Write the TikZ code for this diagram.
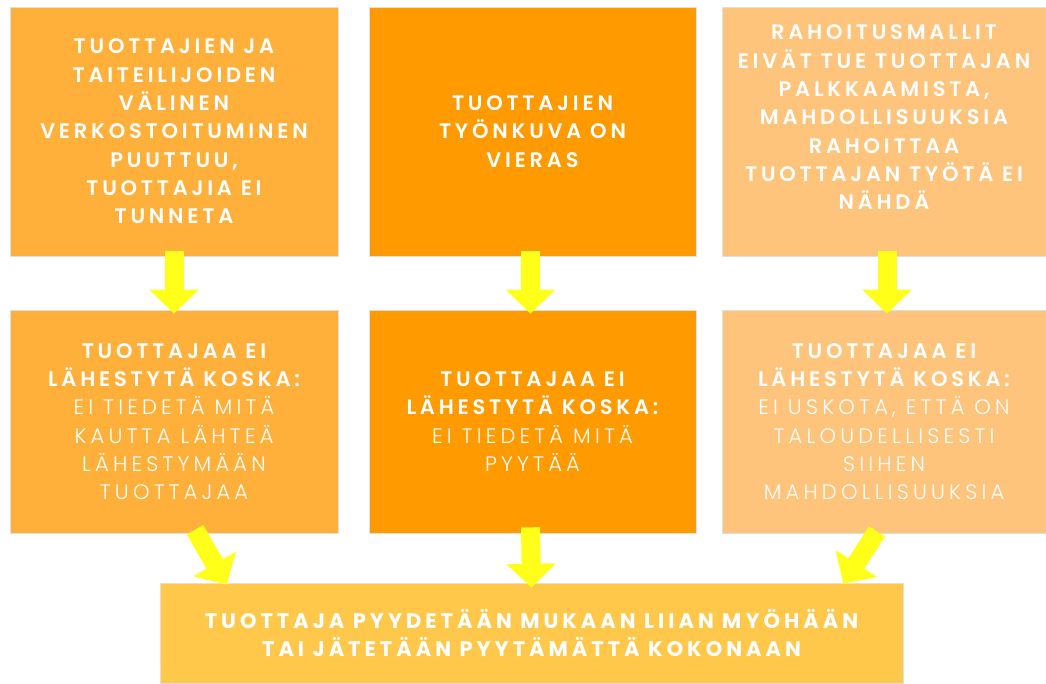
\documentclass[tikz,border=0pt]{standalone}
\usepackage{fontspec}
\setmainfont{Poppins}[BoldFont={Poppins SemiBold},LetterSpace=18]
\newfontfamily\lightfont{Poppins Light}[LetterSpace=20]
\newfontfamily\heavyfont{Poppins Bold}[LetterSpace=19]
\newcommand\lt{\lightfont\mdseries}
\usetikzlibrary{arrows.meta,calc}
\definecolor{cA}{HTML}{FFB03B}
\definecolor{cB}{HTML}{FF9A00}
\definecolor{cC}{HTML}{FFC47C}
\definecolor{cD}{HTML}{FFC84A}
\definecolor{arrowY}{HTML}{FFFF1A}
\tikzset{
  box/.style={draw=black!12,line width=0.6pt,inner sep=0pt,align=center,text=white,
    font=\bfseries\fontsize{21}{28.33}\selectfont},
  toprow/.style={box,minimum width=#1,minimum height=249pt},
  midrow/.style={box,minimum width=#1,minimum height=223pt},
  arr/.style={draw=arrowY,line width=19pt,-{Triangle[width=48pt,length=24pt]}}
}
\begin{document}
\begin{tikzpicture}[x=1pt,y=-1pt]
\useasboundingbox (0,0) rectangle (1046,683);
\node[toprow=328pt,fill=cA] (t1) at (174,131.5) {TUOTTAJIEN JA\\TAITEILIJOIDEN\\VÄLINEN\\VERKOSTOITUMINEN\\PUUTTUU,\\TUOTTAJIA EI\\TUNNETA};
\node[toprow=327pt,fill=cB] (t2) at (532.5,131.5) {TUOTTAJIEN\\TYÖNKUVA ON\\VIERAS};
\node[toprow=324pt,fill=cC] (t3) at (884,131.5) {RAHOITUSMALLIT\\EIVÄT TUE TUOTTAJAN\\PALKKAAMISTA,\\MAHDOLLISUUKSIA\\RAHOITTAA\\TUOTTAJAN TYÖTÄ EI\\NÄHDÄ\\\phantom{X}};
\node[midrow=328pt,fill=cA] (m1) at (174,421.5) {TUOTTAJAA EI\\LÄHESTYTÄ KOSKA:\\\lt EI TIEDETÄ MITÄ\\\lt KAUTTA LÄHTEÄ\\\lt LÄHESTYMÄÄN\\\lt TUOTTAJAA};
\node[midrow=327pt,fill=cB] (m2) at (532.5,421.5) {TUOTTAJAA EI\\LÄHESTYTÄ KOSKA:\\\lt EI TIEDETÄ MITÄ\\\lt PYYTÄÄ};
\node[midrow=324pt,fill=cC] (m3) at (884,421.5) {TUOTTAJAA EI\\LÄHESTYTÄ KOSKA:\\\lt EI USKOTA, ETTÄ ON\\\lt TALOUDELLISESTI\\\lt SIIHEN\\\lt MAHDOLLISUUKSIA};
\node[box,fill=cD,minimum width=743pt,minimum height=100pt,font=\heavyfont\fontsize{21}{28.33}\selectfont] (b) at (531.5,633) {TUOTTAJA PYYDETÄÄN MUKAAN LIIAN MYÖHÄÄN\\TAI JÄTETÄÄN PYYTÄMÄTTÄ KOKONAAN};
% arrows top -> middle
\draw[arr] ($(t1.south)+(0,-5)$) -- ($(m1.north)+(0,4)$);
\draw[arr] ($(t2.south)+(-2,-5)$) -- ($(m2.north)+(-2,4)$);
\draw[arr] ($(t3.south)+(3,-5)$) -- ($(m3.north)+(3,4)$);
% arrows middle -> bottom
\draw[arr] ($(m1.south)+(21,-3.5)$) -- ($(b.north west)+(67,2)$);
\draw[arr] ($(m2.south)+(-2,-6)$) -- ($(b.north)+(0,5)$);
\draw[arr] ($(m3.south)+(-7,-2)$) -- ($(b.north east)+(-60,1)$);
\end{tikzpicture}
\end{document}
